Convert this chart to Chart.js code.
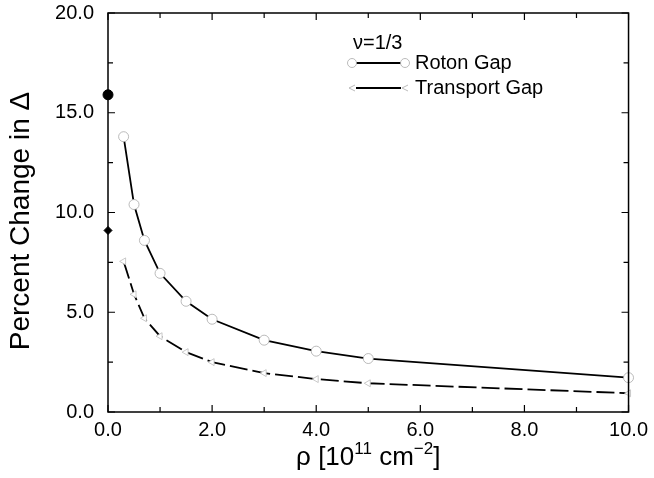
<!DOCTYPE html>
<html>
<head>
<meta charset="utf-8">
<script src="https://cdn.jsdelivr.net/npm/chart.js@4"></script>
<style>
  html, body { margin: 0; padding: 0; background: #fff; }
  #wrap { width: 654px; height: 478px; }
</style>
</head>
<body>
<div id="wrap"><canvas id="myChart" width="654" height="478"></canvas></div>
<script>
// Data
const rho = [0.3, 0.5, 0.7, 1.0, 1.5, 2.0, 3.0, 4.0, 5.0, 10.0];
const rotonGap = [13.8, 10.4, 8.6, 6.95, 5.55, 4.65, 3.6, 3.05, 2.68, 1.72];
const transportGap = [7.55, 5.9, 4.7, 3.8, 3.0, 2.5, 1.95, 1.65, 1.44, 0.94];
// values at zero density (filled symbols on the axis)
const rhoZero = [0.0];
const rotonZero = [15.9];
const transportZero = [9.1];

const xTicks = [0, 2, 4, 6, 8, 10];
const yTicks = [0, 5, 10, 15, 20];
const legendTitle = "ν=1/3";
const labels = ["Roton Gap", "Transport Gap"];
const yTitle = "Percent Change in Δ";

const FONT = "'Liberation Sans', Arial, Helvetica, sans-serif";

function toPoints(xs, ys) {
  return xs.map((x, i) => ({ x: x, y: ys[i] }));
}

// frame + inward ticks on all four sides, legend, axis titles
const framePlugin = {
  id: "frame",
  afterDraw(chart) {
    const ctx = chart.ctx;
    const a = chart.chartArea;
    const xs = chart.scales.x;
    const ys = chart.scales.y;
    ctx.save();
    ctx.strokeStyle = "#000";
    ctx.lineWidth = 1.5;
    ctx.strokeRect(a.left, a.top, a.right - a.left, a.bottom - a.top);
    ctx.lineWidth = 1.2;
    ctx.beginPath();
    for (let v = 0; v <= 10; v += 1) {
      const px = xs.getPixelForValue(v);
      const len = v % 2 === 0 ? 7 : 5;
      ctx.moveTo(px, a.bottom); ctx.lineTo(px, a.bottom - len);
      ctx.moveTo(px, a.top); ctx.lineTo(px, a.top + len);
    }
    for (let v = 0; v <= 20; v += 2.5) {
      const py = ys.getPixelForValue(v);
      const len = v % 5 === 0 ? 7 : 5;
      ctx.moveTo(a.left, py); ctx.lineTo(a.left + len, py);
      ctx.moveTo(a.right, py); ctx.lineTo(a.right - len, py);
    }
    ctx.stroke();

    // legend
    const lx0 = 352, lx1 = 405;
    ctx.fillStyle = "#000";
    ctx.font = "20px " + FONT;
    ctx.textBaseline = "middle";
    ctx.textAlign = "left";
    ctx.fillText(legendTitle, 353, 43);
    const rows = [63, 88];
    ctx.lineWidth = 1.8;
    rows.forEach((yy, i) => {
      ctx.strokeStyle = "#000";
      ctx.beginPath();
      ctx.moveTo(lx0 + 4, yy); ctx.lineTo(lx1 - 4, yy);
      ctx.stroke();
      ctx.fillText(labels[i], 415, yy);
    });
    ctx.strokeStyle = "#aaa";
    ctx.lineWidth = 0.8;
    [lx0, lx1].forEach(px => {
      ctx.beginPath();
      ctx.arc(px, rows[0], 4.5, 0, Math.PI * 2);
      ctx.fillStyle = "#fff";
      ctx.fill();
      ctx.stroke();
      ctx.beginPath();
      ctx.moveTo(px + 3, rows[1] - 3);
      ctx.lineTo(px - 3, rows[1]);
      ctx.lineTo(px + 3, rows[1] + 3);
      ctx.stroke();
    });

    // y axis title
    ctx.fillStyle = "#000";
    ctx.save();
    ctx.translate(21, 221);
    ctx.rotate(-Math.PI / 2);
    ctx.font = "28px " + FONT;
    ctx.textAlign = "center";
    ctx.textBaseline = "middle";
    ctx.fillText(yTitle, 0, 0);
    ctx.restore();

    // x axis title: ρ [10^11 cm^-2]
    const parts = [
      { t: "ρ [10", sup: false },
      { t: "11", sup: true },
      { t: " cm", sup: false },
      { t: "−2", sup: true },
      { t: "]", sup: false }
    ];
    const big = "26px " + FONT, small = "17px " + FONT;
    let total = 0;
    parts.forEach(p => { ctx.font = p.sup ? small : big; p.w = ctx.measureText(p.t).width; total += p.w; });
    let x = (a.left + a.right) / 2 - total / 2;
    const base = 465;
    ctx.textAlign = "left";
    ctx.textBaseline = "alphabetic";
    parts.forEach(p => {
      ctx.font = p.sup ? small : big;
      ctx.fillText(p.t, x, p.sup ? base - 11 : base);
      x += p.w;
    });
    ctx.restore();
  }
};

const myChart = new Chart(document.getElementById("myChart"), {
  type: "scatter",
  data: {
    datasets: [
      {
        label: labels[0],
        data: toPoints(rho, rotonGap),
        showLine: true,
        borderColor: "#000",
        borderWidth: 1.8,
        tension: 0,
        pointStyle: "circle",
        pointRadius: 5,
        pointBorderColor: "#aaa",
        pointBorderWidth: 0.8,
        pointBackgroundColor: "#fff",
        clip: false
      },
      {
        label: labels[1],
        data: toPoints(rho, transportGap),
        showLine: true,
        borderColor: "#000",
        borderWidth: 1.8,
        borderDash: [18, 5],
        tension: 0,
        pointStyle: "triangle",
        rotation: -90,
        pointRadius: 4,
        pointBorderColor: "#bbb",
        pointBorderWidth: 0.8,
        pointBackgroundColor: "#fff",
        clip: false
      },
      {
        label: "roton zero",
        data: toPoints(rhoZero, rotonZero),
        pointStyle: "circle",
        pointRadius: 5,
        pointBackgroundColor: "#000",
        pointBorderColor: "#000",
        clip: false
      },
      {
        label: "transport zero",
        data: toPoints(rhoZero, transportZero),
        pointStyle: "rectRot",
        pointRadius: 4,
        pointBackgroundColor: "#000",
        pointBorderColor: "#000",
        clip: false
      }
    ]
  },
  options: {
    responsive: false,
    animation: false,
    layout: { padding: { left: 0, right: 22, top: 13, bottom: 0 } },
    plugins: {
      legend: { display: false },
      tooltip: { enabled: false }
    },
    scales: {
      x: {
        type: "linear",
        min: 0,
        max: 10,
        afterBuildTicks: s => { s.ticks = xTicks.map(v => ({ value: v })); },
        afterFit: s => { s.height = 66; },
        grid: { display: false, drawTicks: false },
        border: { display: false },
        ticks: {
          color: "#000",
          font: { family: FONT, size: 20 },
          padding: 6,
          maxRotation: 0,
          callback: v => v.toFixed(1)
        }
      },
      y: {
        type: "linear",
        min: 0,
        max: 20,
        afterBuildTicks: s => { s.ticks = yTicks.map(v => ({ value: v })); },
        afterFit: s => { s.width = 108; s.paddingTop = 0; s.paddingBottom = 0; },
        grid: { display: false, drawTicks: false },
        border: { display: false },
        ticks: {
          color: "#000",
          font: { family: FONT, size: 20 },
          padding: 14,
          callback: v => v.toFixed(1)
        }
      }
    }
  },
  plugins: [framePlugin]
});
</script>
</body>
</html>
